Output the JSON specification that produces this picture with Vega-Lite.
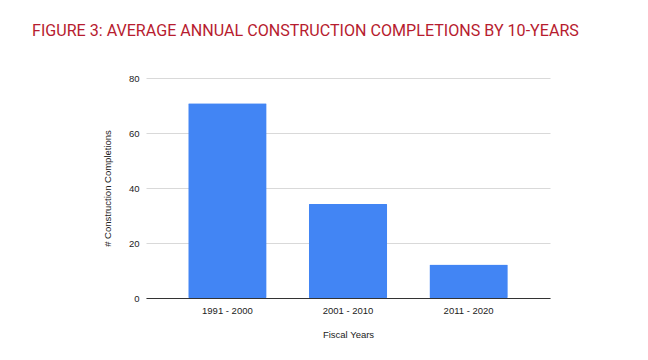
{
  "$schema": "https://vega.github.io/schema/vega-lite/v6.json",
  "width": 404,
  "height": 220,
  "autosize": {"type": "none"},
  "padding": {"left": 146, "top": 78, "right": 98, "bottom": 62},
  "background": "white",
  "title": {
    "text": "FIGURE 3: AVERAGE ANNUAL CONSTRUCTION COMPLETIONS BY 10-YEARS",
    "anchor": "start",
    "frame": "group",
    "dx": -114,
    "offset": 21,
    "baseline": "alphabetic",
    "font": "Roboto",
    "fontSize": 16.1,
    "fontWeight": "normal",
    "color": "#b71c2f"
  },
  "data": {
    "values": [
      {"period": "1991 - 2000", "completions": 70.8},
      {"period": "2001 - 2010", "completions": 34.2},
      {"period": "2011 - 2020", "completions": 12.2}
    ]
  },
  "mark": {"type": "bar", "color": "#4285f4", "cornerRadius": 1},
  "encoding": {
    "x": {
      "field": "period",
      "type": "nominal",
      "sort": null,
      "title": "Fiscal Years",
      "scale": {"paddingInner": 0.35, "paddingOuter": 0.35},
      "axis": {
        "labelAngle": 0,
        "ticks": false,
        "domainColor": "#333333",
        "domainWidth": 1,
        "labelPadding": 7,
        "labelFont": "Liberation Sans",
        "labelFontSize": 9.5,
        "labelColor": "#222222",
        "titleFont": "Liberation Sans",
        "titleFontSize": 9.5,
        "titleFontWeight": "normal",
        "titleColor": "#222222",
        "titlePadding": 15
      }
    },
    "y": {
      "field": "completions",
      "type": "quantitative",
      "title": "# Construction Completions",
      "scale": {"domain": [0, 80]},
      "axis": {
        "values": [0, 20, 40, 60, 80],
        "domain": false,
        "ticks": false,
        "grid": true,
        "gridColor": "#d9d9d9",
        "labelPadding": 7,
        "labelFont": "Liberation Sans",
        "labelFontSize": 9.5,
        "labelColor": "#222222",
        "titleFont": "Liberation Sans",
        "titleFontSize": 9.5,
        "titleFontWeight": "normal",
        "titleColor": "#222222",
        "titlePadding": 16
      }
    }
  },
  "config": {"view": {"stroke": null}}
}
